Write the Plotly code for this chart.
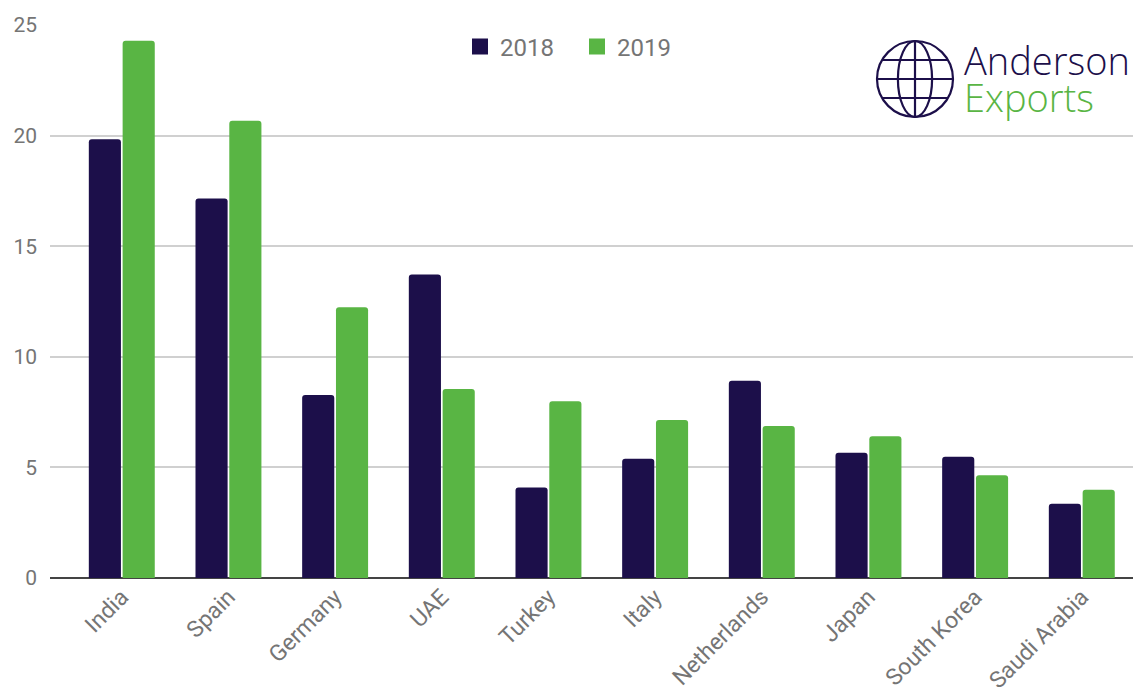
import plotly.graph_objects as go

countries = ["India", "Spain", "Germany", "UAE", "Turkey", "Italy",
             "Netherlands", "Japan", "South Korea", "Saudi Arabia"]
values_2018 = [19.83, 17.16, 8.27, 13.72, 4.09, 5.39, 8.92, 5.66, 5.48, 3.36]
values_2019 = [24.29, 20.67, 12.24, 8.54, 7.99, 7.14, 6.87, 6.41, 4.65, 3.99]
y_ticks = [0, 5, 10, 15, 20, 25]

NAVY = "#1c0f4a"
GREEN = "#59b544"
GREY = "#757575"

OFF = 8  # page body margin
W, H = 1141, 697
L, R, T, B = 50 - OFF, 0, 25 - OFF, 119 + OFF
PW, PH = W - L - R, H - T - B


def px(x):
    return (x - OFF - L) / PW


def py(y):
    return (H - B - (y - OFF)) / PH


fig = go.Figure()
fig.add_trace(go.Bar(x=countries, y=values_2018, name="2018",
                     marker=dict(color=NAVY, line=dict(width=0)),
                     showlegend=False))
fig.add_trace(go.Bar(x=countries, y=values_2019, name="2019",
                     marker=dict(color=GREEN, line=dict(width=0)),
                     showlegend=False))
# legend entries with larger square swatches
fig.add_trace(go.Scatter(x=[None], y=[None], mode="markers", name="2018",
                         marker=dict(symbol="square", size=20, color=NAVY)))
fig.add_trace(go.Scatter(x=[None], y=[None], mode="markers", name="2019",
                         marker=dict(symbol="square", size=20, color=GREEN)))

# Globe logo drawn as shapes (paper coordinates)
cx, cy, r = 915, 79, 38
line = dict(color=NAVY, width=2.2)
shapes = [
    dict(type="circle", xref="paper", yref="paper",
         x0=px(cx - r), x1=px(cx + r), y0=py(cy + r), y1=py(cy - r), line=line),
    dict(type="circle", xref="paper", yref="paper",
         x0=px(cx - r * 0.45), x1=px(cx + r * 0.45), y0=py(cy + r), y1=py(cy - r), line=line),
    dict(type="line", xref="paper", yref="paper",
         x0=px(cx), x1=px(cx), y0=py(cy + r), y1=py(cy - r), line=line),
    dict(type="line", xref="paper", yref="paper",
         x0=px(cx - r), x1=px(cx + r), y0=py(cy), y1=py(cy), line=line),
    dict(type="line", xref="paper", yref="paper",
         x0=px(cx - r * 0.86), x1=px(cx + r * 0.86), y0=py(cy - r * 0.5), y1=py(cy - r * 0.5), line=line),
    dict(type="line", xref="paper", yref="paper",
         x0=px(cx - r * 0.86), x1=px(cx + r * 0.86), y0=py(cy + r * 0.5), y1=py(cy + r * 0.5), line=line),
]

annotations = [
    dict(text="Anderson", xref="paper", yref="paper", x=px(962), y=py(60),
         xanchor="left", yanchor="middle", showarrow=False,
         font=dict(family="Open Sans", size=38, color=NAVY, weight=300)),
    dict(text="Exports", xref="paper", yref="paper", x=px(962), y=py(97),
         xanchor="left", yanchor="middle", showarrow=False,
         font=dict(family="Open Sans", size=38, color=GREEN, weight=300)),
]

fig.update_layout(
    width=W, height=H,
    margin=dict(l=L, r=R, t=T, b=B, pad=0),
    paper_bgcolor="white", plot_bgcolor="white",
    font=dict(family="Roboto", color=GREY, size=20),
    barmode="group", bargap=0.366, bargroupgap=0.05,
    barcornerradius=3,
    showlegend=True,
    legend=dict(orientation="h", x=px(460), y=py(47), xanchor="left", yanchor="middle",
                font=dict(family="Roboto", size=24, color=GREY),
                bgcolor="rgba(0,0,0,0)", itemsizing="trace", itemwidth=30,
                entrywidth=72, entrywidthmode="pixels"),
    shapes=shapes,
    annotations=annotations,
)
fig.update_xaxes(range=[-0.673, 9.63], showgrid=False, showline=False, ticks="",
                 tickangle=-45, tickfont=dict(size=23, color=GREY), zeroline=False)
fig.update_yaxes(range=[0, 25], tickvals=y_ticks, showgrid=True, gridcolor="#d0d0d0",
                 gridwidth=1.5, zeroline=True, zerolinecolor="#444444", zerolinewidth=1.5,
                 showline=False, ticks="", ticklabelstandoff=12,
                 tickfont=dict(size=21, color=GREY))

fig.write_html("out.html")
